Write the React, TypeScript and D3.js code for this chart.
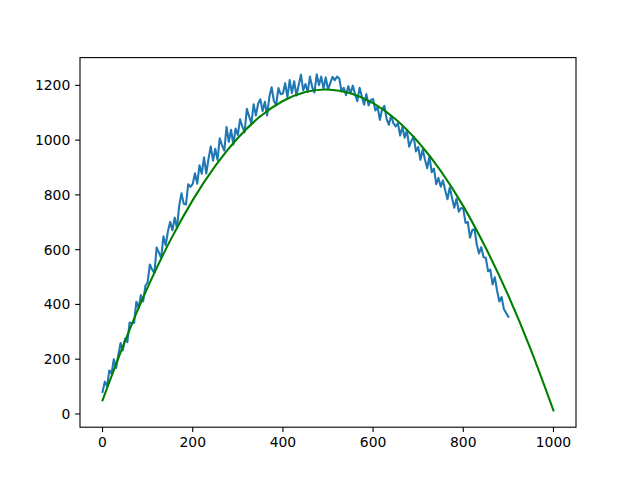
import React from "react";
import * as d3 from "d3";

// Noisy observed series (x = 0, 5, 10, ... 900)
const observedValues: number[] = [
  80, 118, 101, 159, 147, 200, 168, 216, 259, 232,
  275, 262, 334, 331, 333, 410, 387, 434, 411, 468,
  481, 546, 527, 515, 608, 589, 570, 649, 616, 667,
  702, 671, 717, 679, 760, 806, 768, 765, 839, 829,
  840, 879, 841, 908, 877, 937, 878, 931, 977, 925,
  968, 928, 1007, 981, 962, 1048, 994, 1038, 984, 1042,
  1019, 1076, 1049, 1029, 1114, 1087, 1060, 1131, 1090, 1133,
  1149, 1106, 1140, 1090, 1159, 1193, 1143, 1128, 1190, 1168,
  1170, 1208, 1156, 1219, 1172, 1215, 1163, 1201, 1239, 1182,
  1205, 1176, 1232, 1193, 1174, 1240, 1201, 1232, 1188, 1229,
  1185, 1208, 1231, 1219, 1232, 1225, 1178, 1191, 1164, 1197,
  1170, 1199, 1168, 1142, 1191, 1160, 1129, 1168, 1127, 1146,
  1150, 1108, 1121, 1074, 1112, 1125, 1078, 1056, 1089, 1062,
  1050, 1061, 1017, 1048, 1009, 1035, 976, 997, 1013, 959,
  975, 928, 966, 929, 897, 940, 883, 896, 839, 862,
  830, 853, 816, 784, 827, 790, 753, 786, 739, 752,
  750, 698, 701, 644, 672, 675, 618, 586, 609, 572,
  570, 521, 527, 473, 499, 450, 411, 427, 383, 369,
  355,
];
const observedStep = 5;

// Smooth fitted curve, sampled every 50 units
const fitX: number[] = [0, 50, 100, 150, 200, 250, 300, 350, 400, 450, 500, 550, 600, 650, 700, 750, 800, 850, 900, 950, 1000];
const fitY: number[] = [50, 267, 462, 633, 781, 906, 1008, 1087, 1143, 1176, 1185, 1171, 1135, 1076, 993, 888, 759, 606, 432, 234, 13];

const xTicks: number[] = [0, 200, 400, 600, 800, 1000];
const yTicks: number[] = [0, 200, 400, 600, 800, 1000, 1200];

const W = 640;
const H = 478;
const left = 80;
const right = 576;
const top = 57.6;
const bottom = 427.2;

export default function App() {
  const observed = observedValues.map((v, i) => [i * observedStep, v] as [number, number]);
  const fit = fitX.map((x, i) => [x, fitY[i]] as [number, number]);

  const allX = [...observed.map((d) => d[0]), ...fitX];
  const allY = [...observedValues, ...fitY];
  const [x0, x1] = d3.extent(allX) as [number, number];
  const [y0, y1] = d3.extent(allY) as [number, number];
  const px = (x1 - x0) * 0.05;
  const py = (y1 - y0) * 0.05;

  const xScale = d3.scaleLinear().domain([x0 - px, x1 + px]).range([left, right]);
  const yScale = d3.scaleLinear().domain([y0 - py, y1 + py]).range([bottom, top]);

  const lineObs = d3
    .line<[number, number]>()
    .x((d) => xScale(d[0]))
    .y((d) => yScale(d[1]));
  const lineFit = d3
    .line<[number, number]>()
    .x((d) => xScale(d[0]))
    .y((d) => yScale(d[1]))
    .curve(d3.curveNatural);

  const font = "'DejaVu Sans', sans-serif";
  const fs = 13.9;
  const tickLen = 4.86;

  return (
    <svg
      width={W}
      height={H}
      style={{ position: "fixed", left: 0, top: 0, background: "#fff", display: "block" }}
    >
      <rect x={0} y={0} width={W} height={H} fill="#fff" />
      <defs>
        <clipPath id="plotclip">
          <rect x={left} y={top} width={right - left} height={bottom - top} />
        </clipPath>
      </defs>
      <g clipPath="url(#plotclip)">
        <path d={lineObs(observed) || ""} fill="none" stroke="#1f77b4" strokeWidth={2.08} strokeLinejoin="round" strokeLinecap="square" />
        <path d={lineFit(fit) || ""} fill="none" stroke="#008000" strokeWidth={2.08} strokeLinejoin="round" strokeLinecap="square" />
      </g>
      <rect x={left} y={top} width={right - left} height={bottom - top} fill="none" stroke="#000" strokeWidth={1.1} />
      {xTicks.map((t) => (
        <g key={"x" + t}>
          <line x1={xScale(t)} x2={xScale(t)} y1={bottom} y2={bottom + tickLen} stroke="#000" strokeWidth={1.1} />
          <text x={xScale(t)} y={bottom + tickLen + 4.9} textAnchor="middle" dominantBaseline="hanging" fontFamily={font} fontSize={fs} fill="#000">
            {t}
          </text>
        </g>
      ))}
      {yTicks.map((t) => (
        <g key={"y" + t}>
          <line x1={left - tickLen} x2={left} y1={yScale(t)} y2={yScale(t)} stroke="#000" strokeWidth={1.1} />
          <text x={left - tickLen - 4.9} y={yScale(t)} textAnchor="end" dominantBaseline="central" fontFamily={font} fontSize={fs} fill="#000">
            {t}
          </text>
        </g>
      ))}
    </svg>
  );
}
